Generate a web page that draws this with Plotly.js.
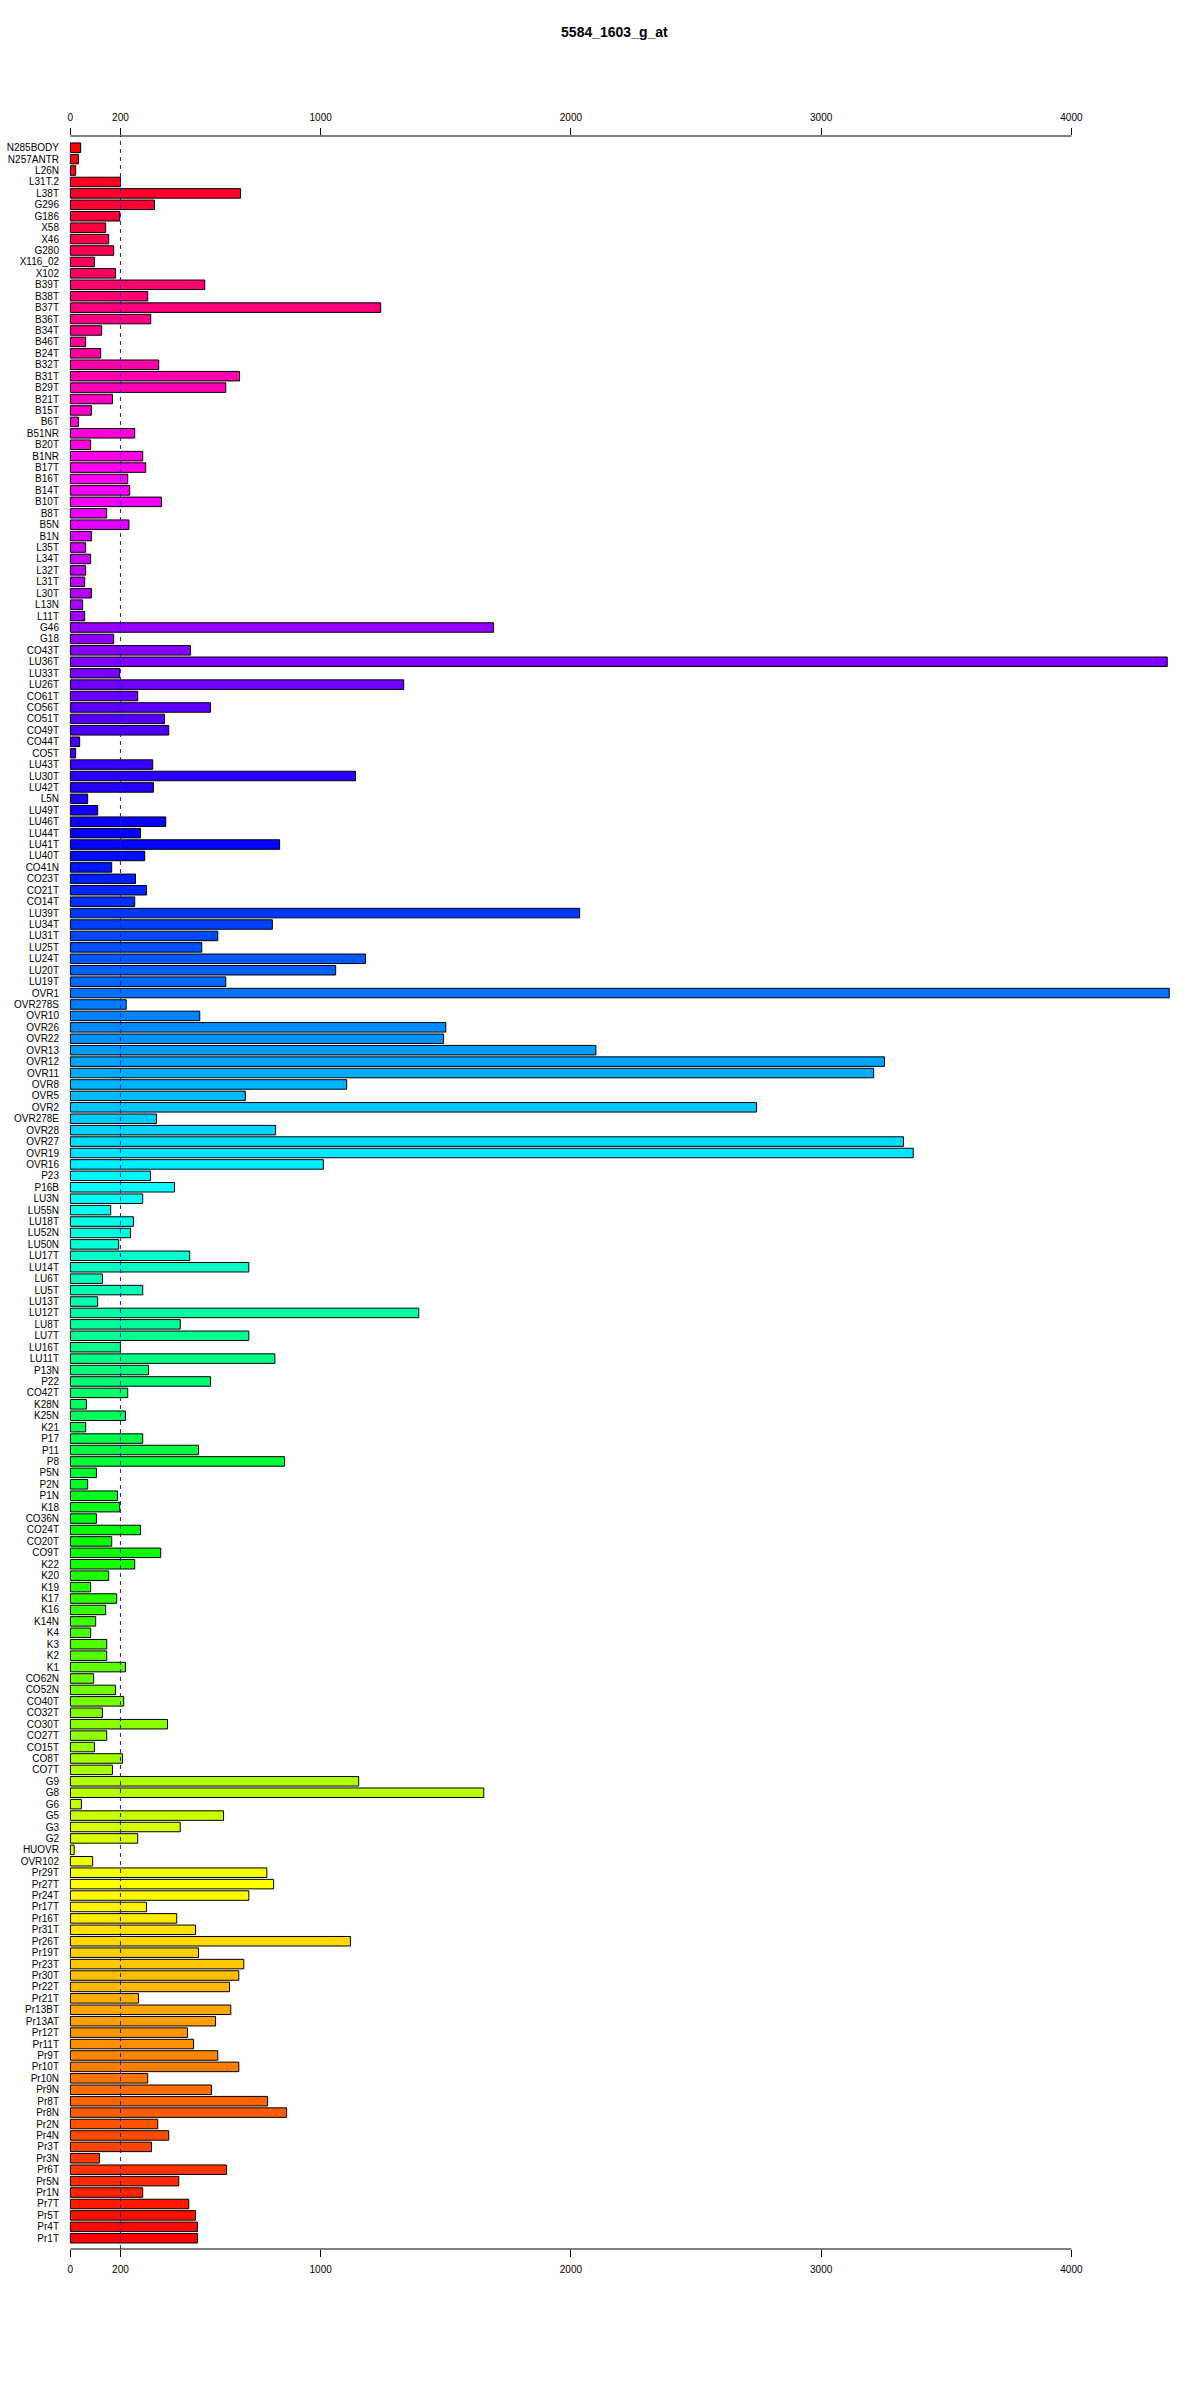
<!DOCTYPE html>
<html>
<head>
<meta charset="utf-8">
<script src="https://cdn.plot.ly/plotly-3.0.1.min.js"></script>
<style>html,body{margin:0;padding:0;background:#fff;}#chart{width:1200px;height:2400px;}</style>
</head>
<body>
<div id="chart"></div>
<script>
const chartTitle = "5584_1603_g_at";

const samples = [
"N285BODY","N257ANTR","L26N","L31T.2","L38T","G296","G186","X58","X46","G280","X116_02","X102","B39T","B38T","B37T","B36T","B34T","B46T","B24T","B32T","B31T","B29T","B21T","B15T","B6T","B51NR",
"B20T","B1NR","B17T","B16T","B14T","B10T","B8T","B5N","B1N","L35T","L34T","L32T","L31T","L30T","L13N","L11T","G46","G18","CO43T","LU36T","LU33T","LU26T","CO61T","CO56T","CO51T","CO49T",
"CO44T","CO5T","LU43T","LU30T","LU42T","L5N","LU49T","LU46T","LU44T","LU41T","LU40T","CO41N","CO23T","CO21T","CO14T","LU39T","LU34T","LU31T","LU25T","LU24T","LU20T","LU19T","OVR1","OVR278S","OVR10","OVR26",
"OVR22","OVR13","OVR12","OVR11","OVR8","OVR5","OVR2","OVR278E","OVR28","OVR27","OVR19","OVR16","P23","P16B","LU3N","LU55N","LU18T","LU52N","LU50N","LU17T","LU14T","LU6T","LU5T","LU13T","LU12T","LU8T","LU7T",
"LU16T","LU11T","P13N","P22","CO42T","K28N","K25N","K21","P17","P11","P8","P5N","P2N","P1N","K18","CO36N","CO24T","CO20T","CO9T","K22","K20","K19","K17","K16","K14N","K4",
"K3","K2","K1","CO62N","CO52N","CO40T","CO32T","CO30T","CO27T","CO15T","CO8T","CO7T","G9","G8","G6","G5","G3","G2","HUOVR","OVR102","Pr29T","Pr27T","Pr24T","Pr17T","Pr16T","Pr31T",
"Pr26T","Pr19T","Pr23T","Pr30T","Pr22T","Pr21T","Pr13BT","Pr13AT","Pr12T","Pr11T","Pr9T","Pr10T","Pr10N","Pr9N","Pr8T","Pr8N","Pr2N","Pr4N","Pr3T","Pr3N","Pr6T","Pr5N","Pr1N","Pr7T","Pr5T","Pr4T","Pr1T"
];

const expression = [
41,32,21,200,680,336,197,141,153,173,96,180,537,309,1240,321,125,61,121,353,676,621,168,84,32,257,
81,289,301,229,237,364,145,234,84,61,81,61,57,84,49,57,1691,173,480,4383,197,1332,269,560,376,393,
37,21,329,1139,332,69,109,381,280,836,297,165,260,304,257,2035,807,589,525,1179,1060,621,4391,223,517,1500,
1491,2100,3253,3210,1104,699,2742,344,820,3329,3368,1011,320,416,289,161,252,240,193,477,713,128,289,109,1392,439,713,
200,817,312,560,229,64,220,61,289,512,856,104,69,188,197,104,280,165,361,257,153,81,185,141,101,81,
145,145,220,93,180,213,128,388,145,96,208,168,1152,1652,44,612,439,269,15,89,785,812,713,304,425,500,
1119,512,693,673,636,272,641,580,468,492,589,673,309,564,788,864,349,393,324,116,624,433,289,473,500,508,508
];

const tickValues = [0, 200, 1000, 2000, 3000, 4000];
const thresholdValue = 200;

// rainbow colouring, hue running from red through magenta, blue, cyan, green, yellow back to red
function hsvColor(h) {
  const c = 1, hp = (h % 360) / 60, x = c * (1 - Math.abs(hp % 2 - 1));
  let r = 0, g = 0, b = 0;
  if (hp < 1) { r = c; g = x; } else if (hp < 2) { r = x; g = c; }
  else if (hp < 3) { g = c; b = x; } else if (hp < 4) { g = x; b = c; }
  else if (hp < 5) { r = x; b = c; } else { r = c; b = x; }
  return 'rgb(' + Math.round(r * 255) + ',' + Math.round(g * 255) + ',' + Math.round(b * 255) + ')';
}
const n = samples.length;
const barColors = samples.map((s, i) => hsvColor(360 * (n - 1 - i) / n));

const font = '"Liberation Sans", Arial, Helvetica, sans-serif';
const xRange = [-9.6, 4414];

const bars = {
  type: 'bar',
  orientation: 'h',
  y: samples,
  x: expression,
  width: 0.8333,
  marker: { color: barColors, line: { color: '#000', width: 1 } },
  hoverinfo: 'y+x',
  xaxis: 'x',
  yaxis: 'y'
};

// same bars attached (invisibly) to the top axis so that it gets drawn
const barsTop = {
  type: 'bar',
  orientation: 'h',
  y: samples,
  x: expression,
  width: 0.8333,
  opacity: 0,
  marker: { color: barColors },
  hoverinfo: 'skip',
  xaxis: 'x2',
  yaxis: 'y'
};

const xAxisCommon = {
  range: xRange,
  tickmode: 'array',
  tickvals: tickValues,
  ticktext: tickValues.map(String),
  ticks: 'outside', ticklen: 7, tickcolor: '#000', tickwidth: 1,
  showline: false, showgrid: false, zeroline: false,
  tickfont: { family: font, size: 10, color: '#000' },
  fixedrange: true
};

const layout = {
  width: 1200,
  height: 2400,
  paper_bgcolor: '#fff',
  plot_bgcolor: '#fff',
  showlegend: false,
  barmode: 'overlay',
  margin: { l: 68, r: 25, t: 136, b: 151 },
  title: {
    text: '<b>' + chartTitle + '</b>',
    font: { family: font, size: 14, color: '#000' },
    xref: 'container', yref: 'container',
    x: 0.512, xanchor: 'center',
    y: 1 - 32 / 2400, yanchor: 'middle'
  },
  xaxis: Object.assign({}, xAxisCommon, { side: 'bottom', anchor: 'y', ticklabelstandoff: 4 }),
  xaxis2: Object.assign({}, xAxisCommon, { side: 'top', anchor: 'y', overlaying: 'x', ticklabelstandoff: 3 }),
  yaxis: {
    type: 'category',
    categoryorder: 'array',
    categoryarray: samples,
    tickmode: 'array',
    tickvals: samples,
    ticktext: samples,
    range: [183.94, -1.024],
    ticks: 'outside', ticklen: 6, tickcolor: 'rgba(0,0,0,0)',
    showline: false, showgrid: false, zeroline: false,
    tickfont: { family: font, size: 10, color: '#000' },
    fixedrange: true
  },
  shapes: [
    { type: 'line', xref: 'x', yref: 'paper', x0: thresholdValue, x1: thresholdValue, y0: 0, y1: 1,
      line: { color: '#1a1acd', width: 1, dash: '4px,4px' }, layer: 'above' },
    { type: 'line', xref: 'x', yref: 'paper', x0: tickValues[0], x1: tickValues[tickValues.length - 1], y0: 1, y1: 1,
      line: { color: '#000', width: 1 } },
    { type: 'line', xref: 'x', yref: 'paper', x0: tickValues[0], x1: tickValues[tickValues.length - 1], y0: 0, y1: 0,
      line: { color: '#000', width: 1 } }
  ]
};

Plotly.newPlot('chart', [bars, barsTop], layout, { displayModeBar: false, staticPlot: true });
</script>
</body>
</html>
